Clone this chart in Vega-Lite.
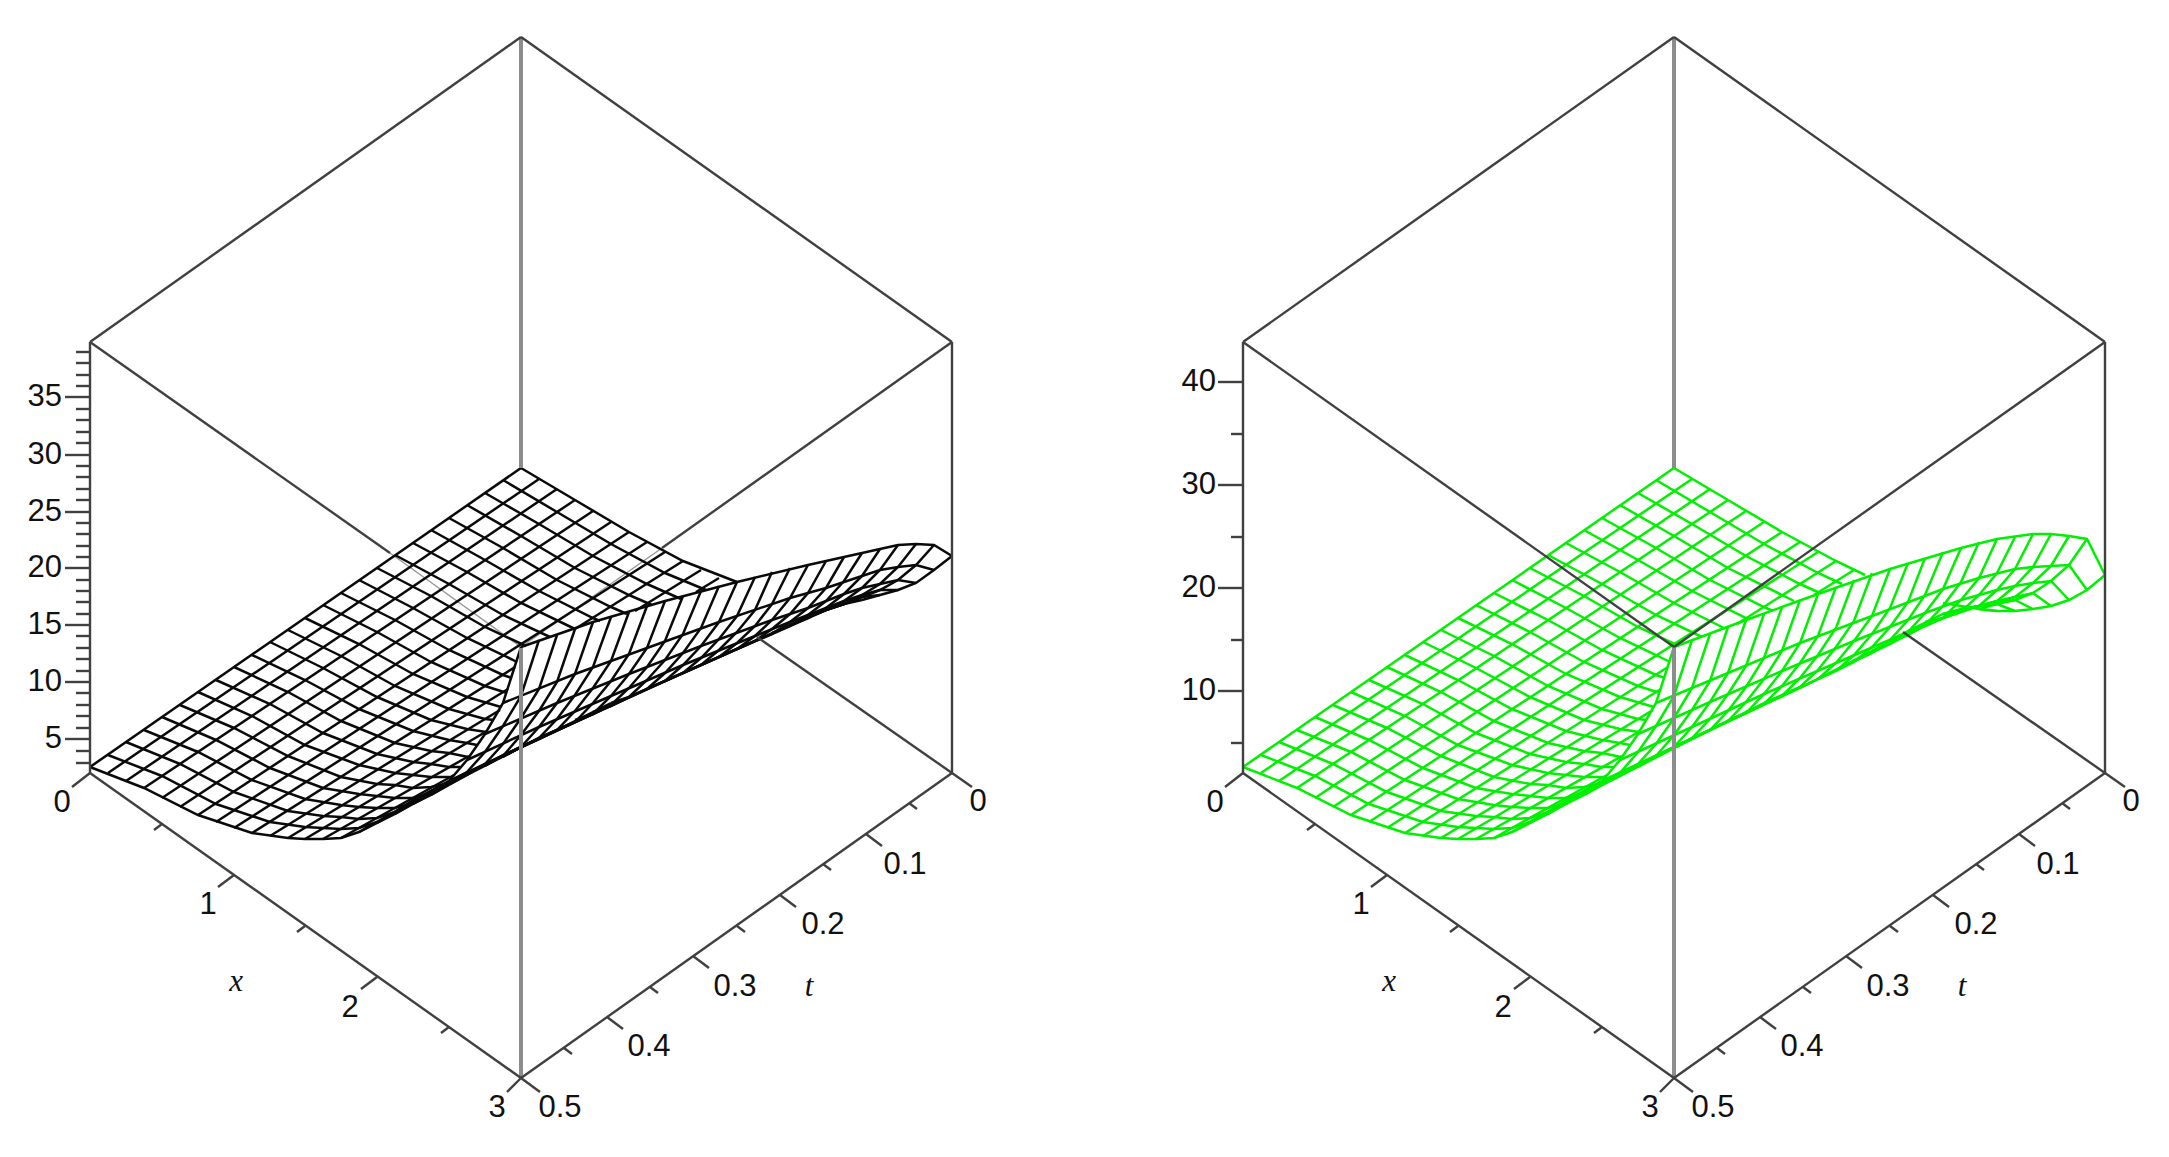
{"$schema":"https://vega.github.io/schema/vega-lite/v6.json","width":2169,"height":1157,"autosize":{"type":"fit","contains":"padding"},"padding":0,"background":"white","config":{"view":{"stroke":null}},
"datasets":{
"faint":[{"l":"a","u":390,"v":553},{"l":"a","u":521,"v":647},{"l":"b","u":662,"v":548},{"l":"b","u":521,"v":647}],
"black":[
{"l":"t0","u":521,"v":468},{"l":"t0","u":90,"v":767},{"l":"t1","u":539,"v":479},{"l":"t1","u":108,"v":773},{"l":"t2","u":557,"v":489},{"l":"t2","u":126,"v":781},{"l":"t3","u":575,"v":500},{"l":"t3","u":144,"v":788},{"l":"t4","u":593,"v":511},{"l":"t4","u":162,"v":798},{"l":"t5","u":611,"v":522},{"l":"t5","u":180,"v":807},{"l":"t6","u":629,"v":532},{"l":"t6","u":198,"v":815},{"l":"t7","u":647,"v":542},{"l":"t7","u":216,"v":822},{"l":"t8","u":665,"v":552},{"l":"t8","u":234,"v":828},
{"l":"t9a","u":683,"v":561},{"l":"t9a","u":575,"v":629},{"l":"t9b","u":515,"v":667},{"l":"t9b","u":252,"v":833},{"l":"t10a","u":701,"v":570},{"l":"t10a","u":635,"v":611},{"l":"t10b","u":508,"v":689},{"l":"t10b","u":270,"v":836},{"l":"t11a","u":719,"v":578},{"l":"t11a","u":696,"v":592},{"l":"t11b","u":500,"v":710},{"l":"t11b","u":288,"v":838},{"l":"t12","u":487,"v":731},{"l":"t12","u":305,"v":839},{"l":"t13","u":469,"v":756},{"l":"t13","u":323,"v":839},{"l":"t14","u":454,"v":775},{"l":"t14","u":341,"v":838},{"l":"t15","u":449,"v":781},{"l":"t15","u":359,"v":832},
{"l":"t16","u":449,"v":785},{"l":"t16","u":431,"v":795},{"l":"t16","u":413,"v":804},{"l":"t16","u":395,"v":814},{"l":"t16","u":377,"v":823},{"l":"t17","u":539,"v":738},{"l":"t17","u":467,"v":775},{"l":"t17","u":395,"v":812},{"l":"t18","u":611,"v":703},{"l":"t18","u":557,"v":730},{"l":"t18","u":485,"v":764},{"l":"t18","u":413,"v":800},
{"l":"t19","u":862,"v":600},{"l":"t19","u":844,"v":604},{"l":"t19","u":826,"v":610},{"l":"t19","u":808,"v":617},{"l":"t19","u":790,"v":625},{"l":"t19","u":755,"v":641},{"l":"t19","u":719,"v":657},{"l":"t19","u":647,"v":689},{"l":"t19","u":575,"v":722},{"l":"t19","u":503,"v":756},{"l":"t19","u":431,"v":791},
{"l":"t20","u":880,"v":595},{"l":"t20","u":862,"v":597},{"l":"t20","u":844,"v":604},{"l":"t20","u":826,"v":610},{"l":"t20","u":808,"v":618},{"l":"t20","u":772,"v":634},{"l":"t20","u":737,"v":649},{"l":"t20","u":665,"v":681},{"l":"t20","u":593,"v":714},{"l":"t20","u":521,"v":747},{"l":"t20","u":449,"v":781},
{"l":"t21","u":898,"v":590},{"l":"t21","u":880,"v":590},{"l":"t21","u":862,"v":595},{"l":"t21","u":844,"v":601},{"l":"t21","u":826,"v":608},{"l":"t21","u":790,"v":622},{"l":"t21","u":755,"v":636},{"l":"t21","u":683,"v":665},{"l":"t21","u":611,"v":696},{"l":"t21","u":539,"v":727},{"l":"t21","u":467,"v":760},
{"l":"t22","u":916,"v":583},{"l":"t22","u":898,"v":580},{"l":"t22","u":880,"v":584},{"l":"t22","u":862,"v":588},{"l":"t22","u":844,"v":594},{"l":"t22","u":808,"v":608},{"l":"t22","u":772,"v":620},{"l":"t22","u":701,"v":646},{"l":"t22","u":629,"v":674},{"l":"t22","u":557,"v":703},{"l":"t22","u":485,"v":734},
{"l":"t23","u":934,"v":570},{"l":"t23","u":916,"v":565},{"l":"t23","u":898,"v":567},{"l":"t23","u":880,"v":570},{"l":"t23","u":862,"v":576},{"l":"t23","u":826,"v":588},{"l":"t23","u":790,"v":598},{"l":"t23","u":719,"v":622},{"l":"t23","u":647,"v":648},{"l":"t23","u":575,"v":674},{"l":"t23","u":503,"v":703},
{"l":"t24","u":952,"v":556},{"l":"t24","u":934,"v":545},{"l":"t24","u":916,"v":544},{"l":"t24","u":898,"v":545},{"l":"t24","u":880,"v":549},{"l":"t24","u":844,"v":557},{"l":"t24","u":808,"v":565},{"l":"t24","u":737,"v":582},{"l":"t24","u":665,"v":601},{"l":"t24","u":593,"v":622},{"l":"t24","u":521,"v":647},
{"l":"x0","u":521,"v":468},{"l":"x0","u":575,"v":500},{"l":"x0","u":629,"v":532},{"l":"x0","u":683,"v":561},{"l":"x0","u":737,"v":582},
{"l":"x1","u":503,"v":480},{"l":"x1","u":557,"v":512},{"l":"x1","u":611,"v":544},{"l":"x1","u":665,"v":573},{"l":"x1","u":706,"v":590},
{"l":"x2","u":485,"v":493},{"l":"x2","u":539,"v":524},{"l":"x2","u":593,"v":556},{"l":"x2","u":647,"v":584},{"l":"x2","u":681,"v":599},
{"l":"x3","u":467,"v":505},{"l":"x3","u":521,"v":536},{"l":"x3","u":575,"v":568},{"l":"x3","u":629,"v":595},{"l":"x3","u":652,"v":605},
{"l":"x4","u":449,"v":518},{"l":"x4","u":503,"v":548},{"l":"x4","u":557,"v":580},{"l":"x4","u":611,"v":607},{"l":"x4","u":627,"v":614},
{"l":"x5","u":431,"v":530},{"l":"x5","u":485,"v":560},{"l":"x5","u":539,"v":591},{"l":"x5","u":593,"v":618},{"l":"x5","u":600,"v":621},
{"l":"x6","u":413,"v":543},{"l":"x6","u":467,"v":572},{"l":"x6","u":521,"v":603},{"l":"x6","u":575,"v":629},
{"l":"x7","u":395,"v":555},{"l":"x7","u":449,"v":584},{"l":"x7","u":503,"v":615},{"l":"x7","u":550,"v":637},
{"l":"x8","u":377,"v":568},{"l":"x8","u":431,"v":596},{"l":"x8","u":485,"v":627},{"l":"x8","u":526,"v":646},
{"l":"x9","u":359,"v":580},{"l":"x9","u":413,"v":608},{"l":"x9","u":467,"v":638},{"l":"x9","u":503,"v":655},{"l":"x9","u":517,"v":662},
{"l":"x10","u":341,"v":593},{"l":"x10","u":395,"v":620},{"l":"x10","u":449,"v":650},{"l":"x10","u":503,"v":675},{"l":"x10","u":512,"v":678},
{"l":"x11","u":323,"v":605},{"l":"x11","u":377,"v":632},{"l":"x11","u":431,"v":662},{"l":"x11","u":485,"v":686},{"l":"x11","u":507,"v":693},
{"l":"x12","u":305,"v":618},{"l":"x12","u":359,"v":644},{"l":"x12","u":413,"v":674},{"l":"x12","u":467,"v":697},{"l":"x12","u":501,"v":707},
{"l":"x13","u":288,"v":630},{"l":"x13","u":341,"v":656},{"l":"x13","u":395,"v":686},{"l":"x13","u":449,"v":709},{"l":"x13","u":485,"v":719},{"l":"x13","u":494,"v":720},
{"l":"x14","u":270,"v":642},{"l":"x14","u":323,"v":668},{"l":"x14","u":377,"v":697},{"l":"x14","u":431,"v":720},{"l":"x14","u":467,"v":729},{"l":"x14","u":486,"v":732},
{"l":"x15","u":252,"v":655},{"l":"x15","u":305,"v":680},{"l":"x15","u":359,"v":709},{"l":"x15","u":413,"v":731},{"l":"x15","u":449,"v":740},{"l":"x15","u":467,"v":743},{"l":"x15","u":477,"v":745},
{"l":"x16","u":234,"v":667},{"l":"x16","u":288,"v":692},{"l":"x16","u":341,"v":721},{"l":"x16","u":395,"v":743},{"l":"x16","u":431,"v":751},{"l":"x16","u":449,"v":753},{"l":"x16","u":468,"v":757},
{"l":"x17","u":216,"v":680},{"l":"x17","u":270,"v":704},{"l":"x17","u":323,"v":733},{"l":"x17","u":377,"v":754},{"l":"x17","u":413,"v":762},{"l":"x17","u":431,"v":764},{"l":"x17","u":449,"v":767},{"l":"x17","u":460,"v":767},
{"l":"x18","u":198,"v":692},{"l":"x18","u":252,"v":716},{"l":"x18","u":305,"v":745},{"l":"x18","u":359,"v":765},{"l":"x18","u":395,"v":773},{"l":"x18","u":413,"v":775},{"l":"x18","u":431,"v":777},{"l":"x18","u":449,"v":777},{"l":"x18","u":453,"v":778},
{"l":"x19","u":180,"v":705},{"l":"x19","u":234,"v":728},{"l":"x19","u":288,"v":756},{"l":"x19","u":341,"v":777},{"l":"x19","u":377,"v":784},{"l":"x19","u":395,"v":785},{"l":"x19","u":413,"v":788},{"l":"x19","u":431,"v":787},{"l":"x19","u":449,"v":783},
{"l":"x20","u":162,"v":717},{"l":"x20","u":216,"v":740},{"l":"x20","u":270,"v":768},{"l":"x20","u":323,"v":788},{"l":"x20","u":359,"v":794},{"l":"x20","u":377,"v":796},{"l":"x20","u":395,"v":798},{"l":"x20","u":413,"v":798},{"l":"x20","u":431,"v":793},
{"l":"x21","u":144,"v":730},{"l":"x21","u":198,"v":752},{"l":"x21","u":252,"v":780},{"l":"x21","u":305,"v":799},{"l":"x21","u":341,"v":805},{"l":"x21","u":359,"v":807},{"l":"x21","u":377,"v":808},{"l":"x21","u":395,"v":808},{"l":"x21","u":413,"v":803},
{"l":"x22","u":126,"v":742},{"l":"x22","u":180,"v":764},{"l":"x22","u":234,"v":792},{"l":"x22","u":288,"v":811},{"l":"x22","u":323,"v":816},{"l":"x22","u":341,"v":817},{"l":"x22","u":359,"v":819},{"l":"x22","u":377,"v":818},{"l":"x22","u":395,"v":812},
{"l":"x23","u":108,"v":755},{"l":"x23","u":162,"v":776},{"l":"x23","u":216,"v":804},{"l":"x23","u":270,"v":822},{"l":"x23","u":305,"v":827},{"l":"x23","u":323,"v":828},{"l":"x23","u":341,"v":829},{"l":"x23","u":359,"v":828},{"l":"x23","u":377,"v":822},
{"l":"x24","u":90,"v":767},{"l":"x24","u":144,"v":788},{"l":"x24","u":198,"v":815},{"l":"x24","u":252,"v":833},{"l":"x24","u":288,"v":838},{"l":"x24","u":305,"v":839},{"l":"x24","u":323,"v":839},{"l":"x24","u":341,"v":838},{"l":"x24","u":359,"v":832},{"l":"x24","u":377,"v":823},{"l":"x24","u":395,"v":812},{"l":"x24","u":413,"v":800},{"l":"x24","u":431,"v":791},{"l":"x24","u":449,"v":781},{"l":"x24","u":467,"v":760},{"l":"x24","u":485,"v":734},{"l":"x24","u":503,"v":703},{"l":"x24","u":521,"v":647},
{"l":"w0","u":862,"v":600},{"l":"w0","u":880,"v":595},{"l":"w0","u":898,"v":590},{"l":"w0","u":916,"v":583},{"l":"w0","u":934,"v":570},{"l":"w0","u":952,"v":556},
{"l":"w1","u":844,"v":604},{"l":"w1","u":862,"v":597},{"l":"w1","u":880,"v":590},{"l":"w1","u":898,"v":580},{"l":"w1","u":916,"v":565},{"l":"w1","u":934,"v":545},
{"l":"w2","u":826,"v":610},{"l":"w2","u":844,"v":604},{"l":"w2","u":862,"v":595},{"l":"w2","u":880,"v":584},{"l":"w2","u":898,"v":567},{"l":"w2","u":916,"v":544},
{"l":"w3","u":808,"v":617},{"l":"w3","u":826,"v":610},{"l":"w3","u":844,"v":601},{"l":"w3","u":862,"v":588},{"l":"w3","u":880,"v":570},{"l":"w3","u":898,"v":545},
{"l":"w4","u":790,"v":625},{"l":"w4","u":808,"v":618},{"l":"w4","u":826,"v":608},{"l":"w4","u":844,"v":594},{"l":"w4","u":862,"v":576},{"l":"w4","u":880,"v":549},
{"l":"w5","u":772,"v":633},{"l":"w5","u":790,"v":626},{"l":"w5","u":808,"v":615},{"l":"w5","u":826,"v":601},{"l":"w5","u":844,"v":581},{"l":"w5","u":862,"v":553},
{"l":"w6","u":755,"v":641},{"l":"w6","u":772,"v":634},{"l":"w6","u":790,"v":622},{"l":"w6","u":808,"v":608},{"l":"w6","u":826,"v":588},{"l":"w6","u":844,"v":557},
{"l":"w7","u":737,"v":649},{"l":"w7","u":755,"v":641},{"l":"w7","u":772,"v":629},{"l":"w7","u":790,"v":614},{"l":"w7","u":808,"v":593},{"l":"w7","u":826,"v":561},
{"l":"w8","u":719,"v":657},{"l":"w8","u":737,"v":649},{"l":"w8","u":755,"v":636},{"l":"w8","u":772,"v":620},{"l":"w8","u":790,"v":598},{"l":"w8","u":808,"v":565},
{"l":"w9","u":701,"v":665},{"l":"w9","u":719,"v":657},{"l":"w9","u":737,"v":643},{"l":"w9","u":755,"v":626},{"l":"w9","u":772,"v":604},{"l":"w9","u":790,"v":568},
{"l":"w10","u":683,"v":673},{"l":"w10","u":701,"v":665},{"l":"w10","u":719,"v":650},{"l":"w10","u":737,"v":632},{"l":"w10","u":755,"v":610},{"l":"w10","u":772,"v":572},
{"l":"w11","u":665,"v":681},{"l":"w11","u":683,"v":673},{"l":"w11","u":701,"v":658},{"l":"w11","u":719,"v":639},{"l":"w11","u":737,"v":616},{"l":"w11","u":755,"v":577},
{"l":"w12","u":647,"v":689},{"l":"w12","u":665,"v":681},{"l":"w12","u":683,"v":665},{"l":"w12","u":701,"v":646},{"l":"w12","u":719,"v":622},{"l":"w12","u":737,"v":582},
{"l":"w13","u":611,"v":703},{"l":"w13","u":629,"v":697},{"l":"w13","u":647,"v":689},{"l":"w13","u":665,"v":673},{"l":"w13","u":683,"v":653},{"l":"w13","u":701,"v":628},{"l":"w13","u":719,"v":586},
{"l":"w14","u":593,"v":712},{"l":"w14","u":611,"v":706},{"l":"w14","u":629,"v":697},{"l":"w14","u":647,"v":680},{"l":"w14","u":665,"v":660},{"l":"w14","u":683,"v":634},{"l":"w14","u":701,"v":591},
{"l":"w15","u":575,"v":720},{"l":"w15","u":593,"v":714},{"l":"w15","u":611,"v":705},{"l":"w15","u":629,"v":688},{"l":"w15","u":647,"v":667},{"l":"w15","u":665,"v":641},{"l":"w15","u":683,"v":596},
{"l":"w16","u":539,"v":738},{"l":"w16","u":557,"v":730},{"l":"w16","u":575,"v":722},{"l":"w16","u":593,"v":714},{"l":"w16","u":611,"v":696},{"l":"w16","u":629,"v":674},{"l":"w16","u":647,"v":648},{"l":"w16","u":665,"v":601},
{"l":"w17","u":521,"v":747},{"l":"w17","u":539,"v":738},{"l":"w17","u":557,"v":730},{"l":"w17","u":575,"v":722},{"l":"w17","u":593,"v":703},{"l":"w17","u":611,"v":681},{"l":"w17","u":629,"v":654},{"l":"w17","u":647,"v":606},
{"l":"w18","u":503,"v":757},{"l":"w18","u":521,"v":747},{"l":"w18","u":539,"v":739},{"l":"w18","u":557,"v":730},{"l":"w18","u":575,"v":711},{"l":"w18","u":593,"v":688},{"l":"w18","u":611,"v":661},{"l":"w18","u":629,"v":612},
{"l":"w19","u":485,"v":766},{"l":"w19","u":503,"v":755},{"l":"w19","u":521,"v":747},{"l":"w19","u":539,"v":738},{"l":"w19","u":557,"v":719},{"l":"w19","u":575,"v":695},{"l":"w19","u":593,"v":667},{"l":"w19","u":611,"v":617},
{"l":"w20","u":449,"v":785},{"l":"w20","u":467,"v":775},{"l":"w20","u":485,"v":764},{"l":"w20","u":503,"v":756},{"l":"w20","u":521,"v":747},{"l":"w20","u":539,"v":727},{"l":"w20","u":557,"v":703},{"l":"w20","u":575,"v":674},{"l":"w20","u":593,"v":622},
{"l":"w21","u":431,"v":795},{"l":"w21","u":449,"v":784},{"l":"w21","u":467,"v":773},{"l":"w21","u":485,"v":765},{"l":"w21","u":503,"v":756},{"l":"w21","u":521,"v":735},{"l":"w21","u":539,"v":711},{"l":"w21","u":557,"v":682},{"l":"w21","u":575,"v":629},
{"l":"w22","u":413,"v":804},{"l":"w22","u":431,"v":794},{"l":"w22","u":449,"v":782},{"l":"w22","u":467,"v":773},{"l":"w22","u":485,"v":764},{"l":"w22","u":503,"v":744},{"l":"w22","u":521,"v":718},{"l":"w22","u":539,"v":689},{"l":"w22","u":557,"v":635},
{"l":"w23","u":395,"v":814},{"l":"w23","u":413,"v":803},{"l":"w23","u":431,"v":791},{"l":"w23","u":449,"v":782},{"l":"w23","u":467,"v":772},{"l":"w23","u":485,"v":752},{"l":"w23","u":503,"v":726},{"l":"w23","u":521,"v":696},{"l":"w23","u":539,"v":640}
],
"green":[
{"l":"t0","u":1674,"v":468},{"l":"t0","u":1243,"v":767},{"l":"t1","u":1692,"v":479},{"l":"t1","u":1261,"v":773},{"l":"t2","u":1710,"v":489},{"l":"t2","u":1279,"v":781},{"l":"t3","u":1728,"v":500},{"l":"t3","u":1297,"v":788},{"l":"t4","u":1746,"v":511},{"l":"t4","u":1315,"v":798},{"l":"t5","u":1764,"v":522},{"l":"t5","u":1333,"v":807},{"l":"t6","u":1782,"v":532},{"l":"t6","u":1351,"v":815},{"l":"t7","u":1800,"v":542},{"l":"t7","u":1369,"v":822},{"l":"t8","u":1818,"v":552},{"l":"t8","u":1387,"v":828},
{"l":"t9a","u":1836,"v":561},{"l":"t9a","u":1737,"v":624},{"l":"t9b","u":1668,"v":667},{"l":"t9b","u":1405,"v":833},{"l":"t10a","u":1854,"v":570},{"l":"t10a","u":1814,"v":595},{"l":"t10b","u":1661,"v":689},{"l":"t10b","u":1423,"v":836},{"l":"t11b","u":1653,"v":710},{"l":"t11b","u":1441,"v":838},{"l":"t12","u":1640,"v":731},{"l":"t12","u":1458,"v":839},{"l":"t13","u":1622,"v":756},{"l":"t13","u":1476,"v":839},{"l":"t14","u":1607,"v":775},{"l":"t14","u":1494,"v":838},{"l":"t15","u":1602,"v":781},{"l":"t15","u":1512,"v":832},
{"l":"t16","u":1602,"v":785},{"l":"t16","u":1584,"v":795},{"l":"t16","u":1566,"v":804},{"l":"t16","u":1548,"v":814},{"l":"t16","u":1530,"v":823},{"l":"t17","u":1692,"v":739},{"l":"t17","u":1620,"v":776},{"l":"t17","u":1548,"v":812},{"l":"t18","u":1764,"v":703},{"l":"t18","u":1710,"v":730},{"l":"t18","u":1638,"v":765},{"l":"t18","u":1566,"v":800},{"l":"t18l","u":1997,"v":611},{"l":"t18l","u":1979,"v":609},
{"l":"t19","u":2015,"v":611},{"l":"t19","u":1997,"v":604},{"l":"t19","u":1979,"v":606},{"l":"t19","u":1961,"v":609},{"l":"t19","u":1943,"v":614},{"l":"t19","u":1908,"v":631},{"l":"t19","u":1872,"v":651},{"l":"t19","u":1800,"v":688},{"l":"t19","u":1728,"v":721},{"l":"t19","u":1656,"v":756},{"l":"t19","u":1584,"v":791},
{"l":"t20","u":2033,"v":609},{"l":"t20","u":2015,"v":600},{"l":"t20","u":1997,"v":603},{"l":"t20","u":1979,"v":606},{"l":"t20","u":1961,"v":610},{"l":"t20","u":1925,"v":626},{"l":"t20","u":1890,"v":644},{"l":"t20","u":1818,"v":679},{"l":"t20","u":1746,"v":713},{"l":"t20","u":1674,"v":747},{"l":"t20","u":1602,"v":781},
{"l":"t21","u":2051,"v":606},{"l":"t21","u":2033,"v":593},{"l":"t21","u":2015,"v":597},{"l":"t21","u":1997,"v":601},{"l":"t21","u":1979,"v":606},{"l":"t21","u":1943,"v":618},{"l":"t21","u":1908,"v":632},{"l":"t21","u":1836,"v":663},{"l":"t21","u":1764,"v":694},{"l":"t21","u":1692,"v":727},{"l":"t21","u":1620,"v":760},
{"l":"t22","u":2069,"v":600},{"l":"t22","u":2051,"v":581},{"l":"t22","u":2033,"v":583},{"l":"t22","u":2015,"v":586},{"l":"t22","u":1997,"v":590},{"l":"t22","u":1961,"v":600},{"l":"t22","u":1925,"v":613},{"l":"t22","u":1854,"v":641},{"l":"t22","u":1782,"v":671},{"l":"t22","u":1710,"v":702},{"l":"t22","u":1638,"v":734},
{"l":"t23","u":2087,"v":590},{"l":"t23","u":2069,"v":565},{"l":"t23","u":2051,"v":566},{"l":"t23","u":2033,"v":567},{"l":"t23","u":2015,"v":569},{"l":"t23","u":1979,"v":578},{"l":"t23","u":1943,"v":589},{"l":"t23","u":1872,"v":616},{"l":"t23","u":1800,"v":643},{"l":"t23","u":1728,"v":673},{"l":"t23","u":1656,"v":703},
{"l":"t24","u":2105,"v":575},{"l":"t24","u":2087,"v":539},{"l":"t24","u":2069,"v":536},{"l":"t24","u":2051,"v":534},{"l":"t24","u":2033,"v":534},{"l":"t24","u":1997,"v":539},{"l":"t24","u":1961,"v":548},{"l":"t24","u":1890,"v":569},{"l":"t24","u":1818,"v":594},{"l":"t24","u":1746,"v":620},{"l":"t24","u":1674,"v":647},
{"l":"x0","u":1674,"v":468},{"l":"x0","u":1728,"v":500},{"l":"x0","u":1782,"v":532},{"l":"x0","u":1836,"v":561},{"l":"x0","u":1865,"v":575},
{"l":"x1","u":1656,"v":480},{"l":"x1","u":1710,"v":512},{"l":"x1","u":1764,"v":544},{"l":"x1","u":1818,"v":573},{"l":"x1","u":1842,"v":584},
{"l":"x2","u":1638,"v":493},{"l":"x2","u":1692,"v":524},{"l":"x2","u":1746,"v":556},{"l":"x2","u":1800,"v":584},{"l":"x2","u":1820,"v":593},
{"l":"x3","u":1620,"v":505},{"l":"x3","u":1674,"v":536},{"l":"x3","u":1728,"v":568},{"l":"x3","u":1782,"v":595},{"l":"x3","u":1794,"v":601},
{"l":"x4","u":1602,"v":518},{"l":"x4","u":1656,"v":548},{"l":"x4","u":1710,"v":580},{"l":"x4","u":1764,"v":607},{"l":"x4","u":1773,"v":611},
{"l":"x5","u":1584,"v":530},{"l":"x5","u":1638,"v":560},{"l":"x5","u":1692,"v":591},{"l":"x5","u":1746,"v":618},{"l":"x5","u":1750,"v":619},
{"l":"x6","u":1566,"v":543},{"l":"x6","u":1620,"v":572},{"l":"x6","u":1674,"v":603},{"l":"x6","u":1724,"v":628},
{"l":"x7","u":1548,"v":555},{"l":"x7","u":1602,"v":584},{"l":"x7","u":1656,"v":615},{"l":"x7","u":1702,"v":637},
{"l":"x8","u":1530,"v":568},{"l":"x8","u":1584,"v":596},{"l":"x8","u":1638,"v":627},{"l":"x8","u":1679,"v":646},
{"l":"x9","u":1512,"v":580},{"l":"x9","u":1566,"v":608},{"l":"x9","u":1620,"v":638},{"l":"x9","u":1656,"v":655},{"l":"x9","u":1670,"v":662},
{"l":"x10","u":1494,"v":593},{"l":"x10","u":1548,"v":620},{"l":"x10","u":1602,"v":650},{"l":"x10","u":1656,"v":675},{"l":"x10","u":1665,"v":678},
{"l":"x11","u":1476,"v":605},{"l":"x11","u":1530,"v":632},{"l":"x11","u":1584,"v":662},{"l":"x11","u":1638,"v":686},{"l":"x11","u":1660,"v":693},
{"l":"x12","u":1458,"v":618},{"l":"x12","u":1512,"v":644},{"l":"x12","u":1566,"v":674},{"l":"x12","u":1620,"v":697},{"l":"x12","u":1654,"v":707},
{"l":"x13","u":1441,"v":630},{"l":"x13","u":1494,"v":656},{"l":"x13","u":1548,"v":686},{"l":"x13","u":1602,"v":709},{"l":"x13","u":1638,"v":719},{"l":"x13","u":1647,"v":720},
{"l":"x14","u":1423,"v":642},{"l":"x14","u":1476,"v":668},{"l":"x14","u":1530,"v":697},{"l":"x14","u":1584,"v":720},{"l":"x14","u":1620,"v":729},{"l":"x14","u":1639,"v":732},
{"l":"x15","u":1405,"v":655},{"l":"x15","u":1458,"v":680},{"l":"x15","u":1512,"v":709},{"l":"x15","u":1566,"v":731},{"l":"x15","u":1602,"v":740},{"l":"x15","u":1620,"v":743},{"l":"x15","u":1630,"v":745},
{"l":"x16","u":1387,"v":667},{"l":"x16","u":1441,"v":692},{"l":"x16","u":1494,"v":721},{"l":"x16","u":1548,"v":743},{"l":"x16","u":1584,"v":751},{"l":"x16","u":1602,"v":753},{"l":"x16","u":1621,"v":757},
{"l":"x17","u":1369,"v":680},{"l":"x17","u":1423,"v":704},{"l":"x17","u":1476,"v":733},{"l":"x17","u":1530,"v":754},{"l":"x17","u":1566,"v":762},{"l":"x17","u":1584,"v":764},{"l":"x17","u":1602,"v":767},{"l":"x17","u":1613,"v":767},
{"l":"x18","u":1351,"v":692},{"l":"x18","u":1405,"v":716},{"l":"x18","u":1458,"v":745},{"l":"x18","u":1512,"v":765},{"l":"x18","u":1548,"v":773},{"l":"x18","u":1566,"v":775},{"l":"x18","u":1584,"v":777},{"l":"x18","u":1602,"v":777},{"l":"x18","u":1606,"v":778},
{"l":"x19","u":1333,"v":705},{"l":"x19","u":1387,"v":728},{"l":"x19","u":1441,"v":756},{"l":"x19","u":1494,"v":777},{"l":"x19","u":1530,"v":784},{"l":"x19","u":1548,"v":785},{"l":"x19","u":1566,"v":788},{"l":"x19","u":1584,"v":787},{"l":"x19","u":1602,"v":783},
{"l":"x20","u":1315,"v":717},{"l":"x20","u":1369,"v":740},{"l":"x20","u":1423,"v":768},{"l":"x20","u":1476,"v":788},{"l":"x20","u":1512,"v":794},{"l":"x20","u":1530,"v":796},{"l":"x20","u":1548,"v":798},{"l":"x20","u":1566,"v":798},{"l":"x20","u":1584,"v":793},
{"l":"x21","u":1297,"v":730},{"l":"x21","u":1351,"v":752},{"l":"x21","u":1405,"v":780},{"l":"x21","u":1458,"v":799},{"l":"x21","u":1494,"v":805},{"l":"x21","u":1512,"v":807},{"l":"x21","u":1530,"v":808},{"l":"x21","u":1548,"v":808},{"l":"x21","u":1566,"v":803},
{"l":"x22","u":1279,"v":742},{"l":"x22","u":1333,"v":764},{"l":"x22","u":1387,"v":792},{"l":"x22","u":1441,"v":811},{"l":"x22","u":1476,"v":816},{"l":"x22","u":1494,"v":817},{"l":"x22","u":1512,"v":819},{"l":"x22","u":1530,"v":818},{"l":"x22","u":1548,"v":812},
{"l":"x23","u":1261,"v":755},{"l":"x23","u":1315,"v":776},{"l":"x23","u":1369,"v":804},{"l":"x23","u":1423,"v":822},{"l":"x23","u":1458,"v":827},{"l":"x23","u":1476,"v":828},{"l":"x23","u":1494,"v":829},{"l":"x23","u":1512,"v":828},{"l":"x23","u":1530,"v":822},
{"l":"x24","u":1243,"v":767},{"l":"x24","u":1297,"v":788},{"l":"x24","u":1351,"v":815},{"l":"x24","u":1405,"v":833},{"l":"x24","u":1441,"v":838},{"l":"x24","u":1458,"v":839},{"l":"x24","u":1476,"v":839},{"l":"x24","u":1494,"v":838},{"l":"x24","u":1512,"v":832},{"l":"x24","u":1530,"v":823},{"l":"x24","u":1548,"v":812},{"l":"x24","u":1566,"v":800},{"l":"x24","u":1584,"v":791},{"l":"x24","u":1602,"v":781},{"l":"x24","u":1620,"v":760},{"l":"x24","u":1638,"v":734},{"l":"x24","u":1656,"v":703},{"l":"x24","u":1674,"v":647},
{"l":"w0","u":1943,"v":603},{"l":"w0","u":1961,"v":606},{"l":"w0","u":1979,"v":609},{"l":"w0","u":1997,"v":611},{"l":"w0","u":2015,"v":611},{"l":"w0","u":2033,"v":609},{"l":"w0","u":2051,"v":606},{"l":"w0","u":2069,"v":600},{"l":"w0","u":2087,"v":590},{"l":"w0","u":2105,"v":575},
{"l":"w1","u":1979,"v":609},{"l":"w1","u":1997,"v":604},{"l":"w1","u":2015,"v":600},{"l":"w1","u":2033,"v":593},{"l":"w1","u":2051,"v":581},{"l":"w1","u":2069,"v":565},{"l":"w1","u":2087,"v":539},
{"l":"w2","u":1979,"v":606},{"l":"w2","u":1997,"v":603},{"l":"w2","u":2015,"v":597},{"l":"w2","u":2033,"v":583},{"l":"w2","u":2051,"v":566},{"l":"w2","u":2069,"v":536},
{"l":"w3","u":1961,"v":609},{"l":"w3","u":1979,"v":606},{"l":"w3","u":1997,"v":601},{"l":"w3","u":2015,"v":586},{"l":"w3","u":2033,"v":567},{"l":"w3","u":2051,"v":534},
{"l":"w4","u":1943,"v":614},{"l":"w4","u":1961,"v":610},{"l":"w4","u":1979,"v":606},{"l":"w4","u":1997,"v":590},{"l":"w4","u":2015,"v":569},{"l":"w4","u":2033,"v":534},
{"l":"w5","u":1925,"v":622},{"l":"w5","u":1943,"v":618},{"l":"w5","u":1961,"v":612},{"l":"w5","u":1979,"v":595},{"l":"w5","u":1997,"v":573},{"l":"w5","u":2015,"v":537},
{"l":"w6","u":1908,"v":631},{"l":"w6","u":1925,"v":626},{"l":"w6","u":1943,"v":618},{"l":"w6","u":1961,"v":600},{"l":"w6","u":1979,"v":578},{"l":"w6","u":1997,"v":539},
{"l":"w7","u":1890,"v":641},{"l":"w7","u":1908,"v":635},{"l":"w7","u":1925,"v":625},{"l":"w7","u":1943,"v":606},{"l":"w7","u":1961,"v":582},{"l":"w7","u":1979,"v":542},
{"l":"w8","u":1872,"v":651},{"l":"w8","u":1890,"v":644},{"l":"w8","u":1908,"v":632},{"l":"w8","u":1925,"v":613},{"l":"w8","u":1943,"v":589},{"l":"w8","u":1961,"v":548},
{"l":"w9","u":1854,"v":661},{"l":"w9","u":1872,"v":653},{"l":"w9","u":1890,"v":640},{"l":"w9","u":1908,"v":620},{"l":"w9","u":1925,"v":595},{"l":"w9","u":1943,"v":552},
{"l":"w10","u":1836,"v":671},{"l":"w10","u":1854,"v":662},{"l":"w10","u":1872,"v":647},{"l":"w10","u":1890,"v":627},{"l":"w10","u":1908,"v":602},{"l":"w10","u":1925,"v":558},
{"l":"w11","u":1818,"v":679},{"l":"w11","u":1836,"v":671},{"l":"w11","u":1854,"v":655},{"l":"w11","u":1872,"v":634},{"l":"w11","u":1890,"v":608},{"l":"w11","u":1908,"v":563},
{"l":"w12","u":1800,"v":688},{"l":"w12","u":1818,"v":679},{"l":"w12","u":1836,"v":663},{"l":"w12","u":1854,"v":641},{"l":"w12","u":1872,"v":616},{"l":"w12","u":1890,"v":569},
{"l":"w13","u":1764,"v":703},{"l":"w13","u":1782,"v":695},{"l":"w13","u":1800,"v":687},{"l":"w13","u":1818,"v":670},{"l":"w13","u":1836,"v":647},{"l":"w13","u":1854,"v":621},{"l":"w13","u":1872,"v":573},
{"l":"w14","u":1746,"v":712},{"l":"w14","u":1764,"v":704},{"l":"w14","u":1782,"v":696},{"l":"w14","u":1800,"v":678},{"l":"w14","u":1818,"v":655},{"l":"w14","u":1836,"v":628},{"l":"w14","u":1854,"v":580},
{"l":"w15","u":1728,"v":721},{"l":"w15","u":1746,"v":713},{"l":"w15","u":1764,"v":704},{"l":"w15","u":1782,"v":686},{"l":"w15","u":1800,"v":663},{"l":"w15","u":1818,"v":636},{"l":"w15","u":1836,"v":587},
{"l":"w16","u":1692,"v":739},{"l":"w16","u":1710,"v":730},{"l":"w16","u":1728,"v":721},{"l":"w16","u":1746,"v":713},{"l":"w16","u":1764,"v":694},{"l":"w16","u":1782,"v":671},{"l":"w16","u":1800,"v":643},{"l":"w16","u":1818,"v":594},
{"l":"w17","u":1674,"v":748},{"l":"w17","u":1692,"v":738},{"l":"w17","u":1710,"v":730},{"l":"w17","u":1728,"v":721},{"l":"w17","u":1746,"v":702},{"l":"w17","u":1764,"v":679},{"l":"w17","u":1782,"v":651},{"l":"w17","u":1800,"v":600},
{"l":"w18","u":1656,"v":757},{"l":"w18","u":1674,"v":747},{"l":"w18","u":1692,"v":739},{"l":"w18","u":1710,"v":730},{"l":"w18","u":1728,"v":711},{"l":"w18","u":1746,"v":687},{"l":"w18","u":1764,"v":658},{"l":"w18","u":1782,"v":607},
{"l":"w19","u":1638,"v":767},{"l":"w19","u":1656,"v":756},{"l":"w19","u":1674,"v":747},{"l":"w19","u":1692,"v":738},{"l":"w19","u":1710,"v":719},{"l":"w19","u":1728,"v":694},{"l":"w19","u":1746,"v":666},{"l":"w19","u":1764,"v":614},
{"l":"w20","u":1602,"v":785},{"l":"w20","u":1620,"v":776},{"l":"w20","u":1638,"v":765},{"l":"w20","u":1656,"v":756},{"l":"w20","u":1674,"v":747},{"l":"w20","u":1692,"v":727},{"l":"w20","u":1710,"v":702},{"l":"w20","u":1728,"v":673},{"l":"w20","u":1746,"v":620},
{"l":"w21","u":1584,"v":795},{"l":"w21","u":1602,"v":785},{"l":"w21","u":1620,"v":774},{"l":"w21","u":1638,"v":765},{"l":"w21","u":1656,"v":756},{"l":"w21","u":1674,"v":735},{"l":"w21","u":1692,"v":710},{"l":"w21","u":1710,"v":681},{"l":"w21","u":1728,"v":627},
{"l":"w22","u":1566,"v":804},{"l":"w22","u":1584,"v":794},{"l":"w22","u":1602,"v":782},{"l":"w22","u":1620,"v":773},{"l":"w22","u":1638,"v":764},{"l":"w22","u":1656,"v":744},{"l":"w22","u":1674,"v":718},{"l":"w22","u":1692,"v":688},{"l":"w22","u":1710,"v":634},
{"l":"w23","u":1548,"v":814},{"l":"w23","u":1566,"v":803},{"l":"w23","u":1584,"v":791},{"l":"w23","u":1602,"v":782},{"l":"w23","u":1620,"v":773},{"l":"w23","u":1638,"v":752},{"l":"w23","u":1656,"v":726},{"l":"w23","u":1674,"v":696},{"l":"w23","u":1692,"v":640}
],
"thick":[{"l":"c1","u":521,"v":37},{"l":"c1","u":521,"v":468},{"l":"c2","u":521,"v":648},{"l":"c2","u":521,"v":1078},{"l":"c3","u":1674,"v":37},{"l":"c3","u":1674,"v":468},{"l":"c4","u":1674,"v":648},{"l":"c4","u":1674,"v":1078}],
"frame":[
{"l":"a1","u":521,"v":37},{"l":"a1","u":90,"v":342},{"l":"a2","u":521,"v":37},{"l":"a2","u":952,"v":342},{"l":"a3","u":90,"v":342},{"l":"a3","u":390,"v":553},{"l":"a4","u":952,"v":342},{"l":"a4","u":662,"v":548},{"l":"a5","u":757,"v":637},{"l":"a5","u":952,"v":773},{"l":"a6","u":90,"v":342},{"l":"a6","u":90,"v":773},{"l":"a7","u":952,"v":342},{"l":"a7","u":952,"v":773},{"l":"a8","u":90,"v":773},{"l":"a8","u":521,"v":1078},{"l":"a9","u":952,"v":773},{"l":"a9","u":521,"v":1078},
{"l":"b1","u":1674,"v":37},{"l":"b1","u":1243,"v":342},{"l":"b2","u":1674,"v":37},{"l":"b2","u":2105,"v":342},{"l":"b3","u":1243,"v":342},{"l":"b3","u":1674,"v":647},{"l":"b4","u":2105,"v":342},{"l":"b4","u":1674,"v":647},{"l":"b5","u":1903,"v":632},{"l":"b5","u":2105,"v":773},{"l":"b6","u":1243,"v":342},{"l":"b6","u":1243,"v":773},{"l":"b7","u":2105,"v":342},{"l":"b7","u":2105,"v":773},{"l":"b8","u":1243,"v":773},{"l":"b8","u":1674,"v":1078},{"l":"b9","u":2105,"v":773},{"l":"b9","u":1674,"v":1078},
{"l":"p0","u":90,"v":773},{"l":"p0","u":72,"v":787},{"l":"p1","u":234,"v":875},{"l":"p1","u":218,"v":887},{"l":"p2","u":377,"v":977},{"l":"p2","u":361,"v":989},{"l":"p3","u":521,"v":1078},{"l":"p3","u":507,"v":1092},{"l":"p4","u":162,"v":824},{"l":"p4","u":154,"v":830},{"l":"p5","u":305,"v":926},{"l":"p5","u":297,"v":932},{"l":"p6","u":449,"v":1027},{"l":"p6","u":441,"v":1033},
{"l":"q0","u":952,"v":773},{"l":"q0","u":972,"v":787},{"l":"q1","u":866,"v":834},{"l":"q1","u":882,"v":846},{"l":"q2","u":780,"v":895},{"l":"q2","u":796,"v":907},{"l":"q3","u":693,"v":956},{"l":"q3","u":709,"v":968},{"l":"q4","u":607,"v":1017},{"l":"q4","u":623,"v":1029},{"l":"q5","u":521,"v":1078},{"l":"q5","u":540,"v":1092},{"l":"q6","u":909,"v":803},{"l":"q6","u":917,"v":809},{"l":"q7","u":823,"v":864},{"l":"q7","u":831,"v":870},{"l":"q8","u":737,"v":926},{"l":"q8","u":745,"v":932},{"l":"q9","u":650,"v":987},{"l":"q9","u":658,"v":993},{"l":"q10","u":564,"v":1048},{"l":"q10","u":572,"v":1054},
{"l":"r0","u":1243,"v":773},{"l":"r0","u":1225,"v":787},{"l":"r1","u":1387,"v":875},{"l":"r1","u":1371,"v":887},{"l":"r2","u":1530,"v":977},{"l":"r2","u":1514,"v":989},{"l":"r3","u":1674,"v":1078},{"l":"r3","u":1660,"v":1092},{"l":"r4","u":1315,"v":824},{"l":"r4","u":1307,"v":830},{"l":"r5","u":1458,"v":926},{"l":"r5","u":1450,"v":932},{"l":"r6","u":1602,"v":1027},{"l":"r6","u":1594,"v":1033},
{"l":"s0","u":2105,"v":773},{"l":"s0","u":2125,"v":787},{"l":"s1","u":2019,"v":834},{"l":"s1","u":2035,"v":846},{"l":"s2","u":1933,"v":895},{"l":"s2","u":1949,"v":907},{"l":"s3","u":1846,"v":956},{"l":"s3","u":1862,"v":968},{"l":"s4","u":1760,"v":1017},{"l":"s4","u":1776,"v":1029},{"l":"s5","u":1674,"v":1078},{"l":"s5","u":1693,"v":1092},{"l":"s6","u":2062,"v":803},{"l":"s6","u":2070,"v":809},{"l":"s7","u":1976,"v":864},{"l":"s7","u":1984,"v":870},{"l":"s8","u":1890,"v":926},{"l":"s8","u":1898,"v":932},{"l":"s9","u":1803,"v":987},{"l":"s9","u":1811,"v":993},{"l":"s10","u":1717,"v":1048},{"l":"s10","u":1725,"v":1054}
],
"zticks":[
{"v":739,"a":65,"b":90},{"v":682,"a":65,"b":90},{"v":625,"a":65,"b":90},{"v":568,"a":65,"b":90},{"v":512,"a":65,"b":90},{"v":455,"a":65,"b":90},{"v":397,"a":65,"b":90},
{"v":763,"a":76,"b":90},{"v":751,"a":76,"b":90},{"v":728,"a":76,"b":90},{"v":716,"a":76,"b":90},{"v":705,"a":76,"b":90},{"v":693,"a":76,"b":90},{"v":671,"a":76,"b":90},{"v":659,"a":76,"b":90},{"v":648,"a":76,"b":90},{"v":636,"a":76,"b":90},{"v":614,"a":76,"b":90},{"v":602,"a":76,"b":90},{"v":591,"a":76,"b":90},{"v":580,"a":76,"b":90},{"v":557,"a":76,"b":90},{"v":546,"a":76,"b":90},{"v":534,"a":76,"b":90},{"v":523,"a":76,"b":90},{"v":500,"a":76,"b":90},{"v":489,"a":76,"b":90},{"v":477,"a":76,"b":90},{"v":466,"a":76,"b":90},{"v":443,"a":76,"b":90},{"v":432,"a":76,"b":90},{"v":420,"a":76,"b":90},{"v":409,"a":76,"b":90},{"v":386,"a":76,"b":90},{"v":375,"a":76,"b":90},{"v":363,"a":76,"b":90},{"v":352,"a":76,"b":90},
{"v":691,"a":1218,"b":1243},{"v":588,"a":1218,"b":1243},{"v":485,"a":1218,"b":1243},{"v":382,"a":1218,"b":1243},{"v":743,"a":1231,"b":1243},{"v":640,"a":1231,"b":1243},{"v":537,"a":1231,"b":1243},{"v":434,"a":1231,"b":1243}
],
"zlabels":[{"u":62,"v":739,"t":"5"},{"u":62,"v":682,"t":"10"},{"u":62,"v":625,"t":"15"},{"u":62,"v":568,"t":"20"},{"u":62,"v":512,"t":"25"},{"u":62,"v":455,"t":"30"},{"u":62,"v":397,"t":"35"},{"u":1216,"v":691,"t":"10"},{"u":1216,"v":588,"t":"20"},{"u":1216,"v":485,"t":"30"},{"u":1216,"v":382,"t":"40"}],
"labels":[{"u":62,"v":803,"t":"0"},{"u":208,"v":905,"t":"1"},{"u":350,"v":1008,"t":"2"},{"u":497,"v":1108,"t":"3"},{"u":978,"v":802,"t":"0"},{"u":905,"v":865,"t":"0.1"},{"u":823,"v":925,"t":"0.2"},{"u":735,"v":987,"t":"0.3"},{"u":649,"v":1047,"t":"0.4"},{"u":560,"v":1108,"t":"0.5"},{"u":1215,"v":803,"t":"0"},{"u":1361,"v":905,"t":"1"},{"u":1503,"v":1008,"t":"2"},{"u":1650,"v":1108,"t":"3"},{"u":2131,"v":802,"t":"0"},{"u":2058,"v":865,"t":"0.1"},{"u":1976,"v":925,"t":"0.2"},{"u":1888,"v":987,"t":"0.3"},{"u":1802,"v":1047,"t":"0.4"},{"u":1713,"v":1108,"t":"0.5"}],
"names":[{"u":236,"v":982,"t":"x"},{"u":809,"v":987,"t":"t"},{"u":1389,"v":982,"t":"x"},{"u":1962,"v":987,"t":"t"}]
},
"layer":[
{"data":{"name":"faint"},"mark":{"type":"line","order":false,"stroke":"#999999","strokeWidth":1.5},"encoding":{"x":{"field":"u","type":"quantitative","scale":{"domain":[0,2169],"nice":false,"zero":false},"axis":null},"y":{"field":"v","type":"quantitative","scale":{"domain":[1157,0],"nice":false,"zero":false},"axis":null},"detail":{"field":"l"}}},
{"data":{"name":"black"},"mark":{"type":"line","order":false,"stroke":"#0a0a0a","strokeWidth":2.5},"encoding":{"x":{"field":"u","type":"quantitative"},"y":{"field":"v","type":"quantitative"},"detail":{"field":"l"}}},
{"data":{"name":"green"},"mark":{"type":"line","order":false,"stroke":"#00f000","strokeWidth":2.5},"encoding":{"x":{"field":"u","type":"quantitative"},"y":{"field":"v","type":"quantitative"},"detail":{"field":"l"}}},
{"data":{"name":"thick"},"mark":{"type":"line","order":false,"stroke":"#8c8c8c","strokeWidth":4},"encoding":{"x":{"field":"u","type":"quantitative"},"y":{"field":"v","type":"quantitative"},"detail":{"field":"l"}}},
{"data":{"name":"frame"},"mark":{"type":"line","order":false,"stroke":"#404040","strokeWidth":2.4},"encoding":{"x":{"field":"u","type":"quantitative"},"y":{"field":"v","type":"quantitative"},"detail":{"field":"l"}}},
{"data":{"name":"zticks"},"mark":{"type":"rule","stroke":"#404040","strokeWidth":2.4},"encoding":{"x":{"field":"a","type":"quantitative"},"x2":{"field":"b"},"y":{"field":"v","type":"quantitative"}}},
{"data":{"name":"zlabels"},"mark":{"type":"text","align":"right","baseline":"middle","font":"Liberation Sans","fontSize":31,"fill":"#111111"},"encoding":{"x":{"field":"u","type":"quantitative"},"y":{"field":"v","type":"quantitative"},"text":{"field":"t"}}},
{"data":{"name":"labels"},"mark":{"type":"text","align":"center","baseline":"middle","font":"Liberation Sans","fontSize":31,"fill":"#111111"},"encoding":{"x":{"field":"u","type":"quantitative"},"y":{"field":"v","type":"quantitative"},"text":{"field":"t"}}},
{"data":{"name":"names"},"mark":{"type":"text","align":"center","baseline":"middle","font":"Liberation Serif","fontStyle":"italic","fontSize":31,"fill":"#111111"},"encoding":{"x":{"field":"u","type":"quantitative"},"y":{"field":"v","type":"quantitative"},"text":{"field":"t"}}}
]}
